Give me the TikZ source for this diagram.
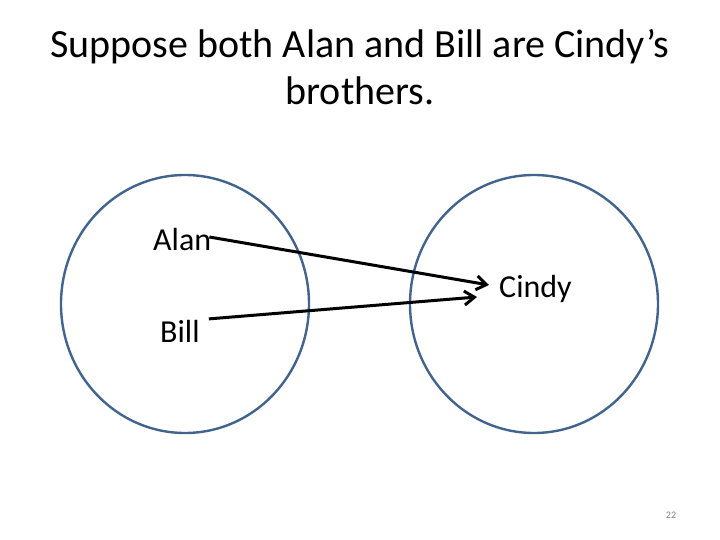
\documentclass[tikz,border=0pt]{standalone}
\usepackage{fontspec}
\setmainfont{Carlito}
\usetikzlibrary{arrows.meta}
\definecolor{setblue}{HTML}{41648F}
\tikzset{
  setring/.style={draw=setblue, line width=2.4pt},
  elem/.style={inner sep=0pt, anchor=base west, font=\fontsize{32}{36}\selectfont},
  headline/.style={inner sep=0pt, anchor=base, font=\fontsize{40}{48}\selectfont},
  maparrow/.style={line width=3pt, -{Straight Barb[length=10pt, width=14pt, line width=3pt]}}
}
\begin{document}
\begin{tikzpicture}[x=1pt, y=-1pt]
        \useasboundingbox (0,0) rectangle (720,540);

        % title
        \node [headline] (title) at (360,58) {Suppose both Alan and Bill are Cindy’s};
        \node [headline] (title2) at (360,105) {brothers.};

        % the two sets
        \draw [setring] (185,304) ellipse [x radius=124, y radius=129];
        \draw [setring] (534,304) ellipse [x radius=124, y radius=129];

        \node [elem] (alan) at (153,251) {Alan};
        \node [elem] (bill) at (160,342) {Bill};
        \node [elem] (cindy) at (499,297) {Cindy};

        \coordinate (tipA) at (489,285);
        \coordinate (tipB) at (477,297);
        \draw [maparrow] (alan.east) ++(-2,-3) -- (tipA);
        \draw [maparrow] (bill.east) ++(9,-12) -- (tipB);

        \node [font=\fontsize{10}{12}\selectfont, text=gray] (page) at (671,515) {22};
    \end{tikzpicture}
\end{document}
